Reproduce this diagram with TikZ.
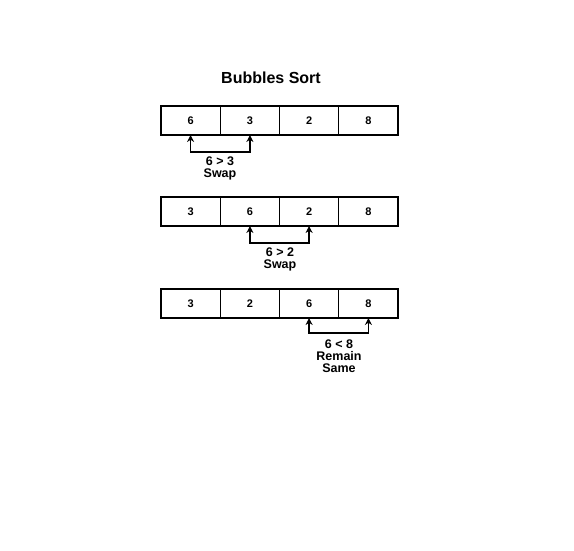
\documentclass[tikz,border=0pt]{standalone}
\usepackage{fontspec}
\setmainfont{Liberation Sans}
\usetikzlibrary{arrows.meta}
\begin{document}
\begin{tikzpicture}[x=1pt,y=-1pt,
  cell/.style={draw=black,line width=1.3pt,minimum width=59.25pt,minimum height=29pt,inner sep=0pt,outer sep=0pt,font=\bfseries\fontsize{11}{11}\selectfont},
  link/.style={line width=1.5pt,{Stealth[length=7pt,width=7pt]}-{Stealth[length=7pt,width=7pt]}},
  lbl/.style={align=center,font=\bfseries\fontsize{12.5}{12}\selectfont,inner sep=0pt}]
\fill[white] (0,0) rectangle (574,551);
\useasboundingbox (0,0) rectangle (574,551);
\node[font=\bfseries\fontsize{16}{16}\selectfont] (title) at (271,78) {Bubbles Sort};
% row 1
\node[cell] (a1) at (190.6,120.5) {6};
\node[cell] (a2) at (249.9,120.5) {3};
\node[cell] (a3) at (309.1,120.5) {2};
\node[cell] (a4) at (368.4,120.5) {8};
\coordinate (ab) at (220,152);
\draw[link] (a1.south) |- (ab) -| (a2.south);
\node[lbl] (al) at (220,168) {6 > 3\\Swap};
% row 2
\node[cell] (b1) at (190.6,211.5) {3};
\node[cell] (b2) at (249.9,211.5) {6};
\node[cell] (b3) at (309.1,211.5) {2};
\node[cell] (b4) at (368.4,211.5) {8};
\coordinate (bb) at (280,243);
\draw[link] (b2.south) |- (bb) -| (b3.south);
\node[lbl] (bl) at (280,259) {6 > 2\\Swap};
% row 3
\node[cell] (c1) at (190.6,303.5) {3};
\node[cell] (c2) at (249.9,303.5) {2};
\node[cell] (c3) at (309.1,303.5) {6};
\node[cell] (c4) at (368.4,303.5) {8};
\coordinate (cb) at (339,333);
\draw[link] (c3.south) |- (cb) -| (c4.south);
\node[lbl] (cl) at (339,356) {6 < 8\\Remain\\Same};
\end{tikzpicture}
\end{document}
